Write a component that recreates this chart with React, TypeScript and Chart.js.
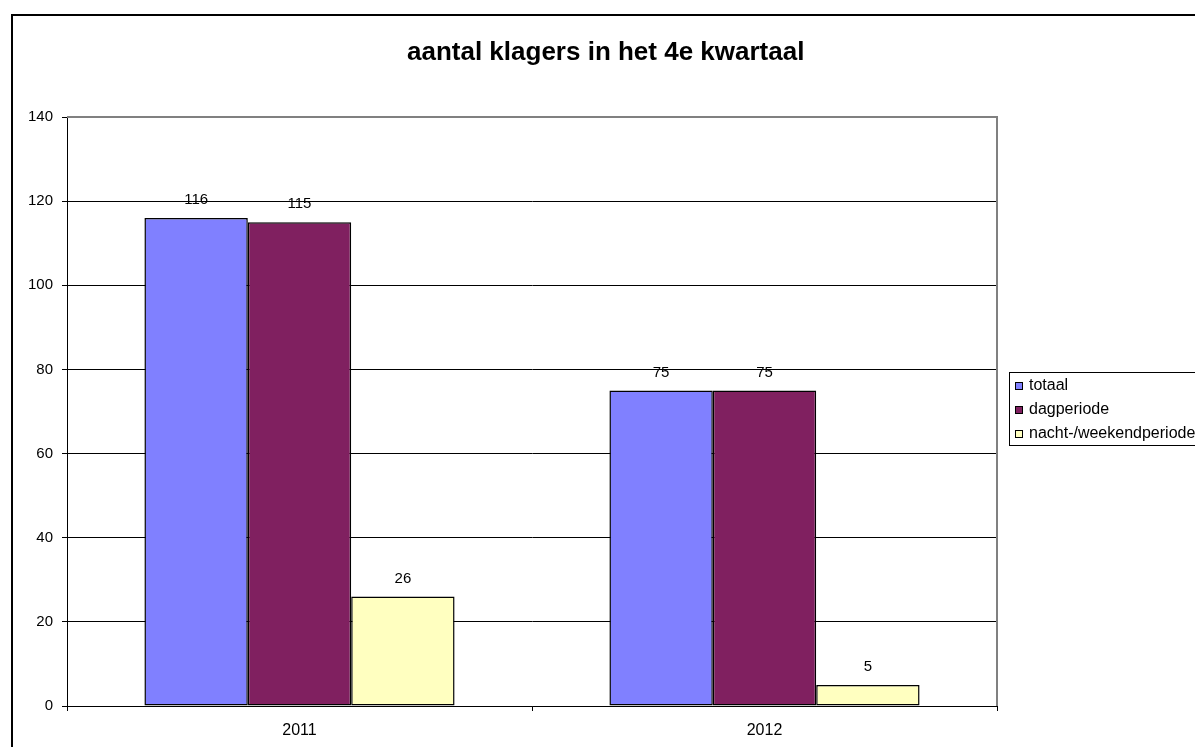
import React, { useEffect, useRef } from "react";
import { Chart, registerables } from "chart.js";

Chart.register(...registerables);

const categories = ["2011", "2012"];
const seriesNames = ["totaal", "dagperiode", "nacht-/weekendperiode"];
const totaal = [116, 75];
const dagperiode = [115, 75];
const nachtWeekend = [26, 5];
const yTicks = [0, 20, 40, 60, 80, 100, 120, 140];
const titleText = "aantal klagers in het 4e kwartaal";

const colors = ["#8080FF", "#802060", "#FFFFC0"];
const FONT = "'Liberation Sans', Arial, sans-serif";

export default function App() {
  const ref = useRef<HTMLCanvasElement | null>(null);

  useEffect(() => {
    document.body.style.margin = "0";
    const canvas = ref.current;
    if (!canvas) return;

    const framePlugin = {
      id: "frame",
      beforeDraw(chart: any) {
        const ctx = chart.ctx;
        ctx.save();
        ctx.fillStyle = "#fff";
        ctx.fillRect(0, 0, chart.width, chart.height);
        ctx.strokeStyle = "#000";
        ctx.lineWidth = 2;
        ctx.beginPath();
        ctx.moveTo(12, chart.height + 5);
        ctx.lineTo(12, 15);
        ctx.lineTo(chart.width + 5, 15);
        ctx.stroke();
        // title
        ctx.fillStyle = "#000";
        ctx.font = `bold 26px ${FONT}`;
        ctx.textAlign = "left";
        ctx.textBaseline = "alphabetic";
        ctx.fillText(titleText, 407, 60);
        ctx.restore();
      },
      afterDraw(chart: any) {
        const ctx = chart.ctx;
        const area = chart.chartArea;
        ctx.save();
        // plot border top/right gray
        ctx.strokeStyle = "#808080";
        ctx.lineWidth = 2;
        ctx.beginPath();
        ctx.moveTo(area.left, area.top);
        ctx.lineTo(area.right, area.top);
        ctx.lineTo(area.right, area.bottom);
        ctx.stroke();
        // data labels
        ctx.fillStyle = "#000";
        ctx.font = `15px ${FONT}`;
        ctx.textAlign = "center";
        ctx.textBaseline = "middle";
        chart.data.datasets.forEach((ds: any, di: number) => {
          const meta = chart.getDatasetMeta(di);
          meta.data.forEach((bar: any, i: number) => {
            ctx.fillText(String(ds.data[i]), bar.x, bar.y - 18);
          });
        });
        // legend
        const lx = 1009, ly = 372, lh = 73;
        ctx.strokeStyle = "#000";
        ctx.lineWidth = 1;
        ctx.strokeRect(lx + 0.5, ly + 0.5, 400, lh);
        ctx.font = `16px ${FONT}`;
        ctx.textAlign = "left";
        chart.data.datasets.forEach((ds: any, di: number) => {
          const cy = 386 + di * 24;
          ctx.fillStyle = ds.backgroundColor;
          ctx.fillRect(1015, cy - 4, 8, 8);
          ctx.strokeStyle = "#000";
          ctx.strokeRect(1015.5, cy - 3.5, 7, 7);
          ctx.fillStyle = "#000";
          ctx.fillText(ds.label, 1029, cy);
        });
        ctx.restore();
      },
    };

    const chart = new Chart(canvas, {
      type: "bar",
      data: {
        labels: categories,
        datasets: [totaal, dagperiode, nachtWeekend].map((d, i) => ({
          label: seriesNames[i],
          data: d,
          backgroundColor: colors[i],
          borderColor: "#000",
          borderWidth: 1.5,
          borderSkipped: false,
          categoryPercentage: 0.667,
          barPercentage: 1,
        })),
      },
      options: {
        animation: false,
        responsive: false,
        devicePixelRatio: 1,
        layout: { padding: { left: 0, top: 117, right: 198, bottom: 0 } },
        plugins: {
          legend: { display: false },
          title: { display: false },
          tooltip: { enabled: false },
        },
        scales: {
          x: {
            grid: {
              display: true,
              drawOnChartArea: false,
              drawTicks: true,
              tickLength: 5,
              offset: true,
              color: "#000",
            },
            border: { display: true, color: "#000", width: 1 },
            ticks: {
              color: "#000",
              font: { family: FONT, size: 16 },
              padding: 10,
            },
            afterFit(scale: any) {
              scale.height = 41;
            },
          },
          y: {
            min: 0,
            max: 140,
            afterBuildTicks(scale: any) {
              scale.ticks = yTicks.map((v) => ({ value: v }));
            },
            grid: {
              color: "#000",
              lineWidth: 1,
              tickLength: 5,
              drawTicks: true,
            },
            border: { display: true, color: "#000", width: 1 },
            ticks: {
              color: "#000",
              font: { family: FONT, size: 15 },
              padding: 9,
            },
            afterFit(scale: any) {
              scale.width = 67;
            },
          },
        },
      },
      plugins: [framePlugin],
    });

    return () => chart.destroy();
  }, []);

  return (
    <div style={{ position: "absolute", left: 0, top: 0, width: 1195, height: 747 }}>
      <canvas ref={ref} width={1195} height={747} style={{ width: 1195, height: 747, display: "block" }} />
    </div>
  );
}
